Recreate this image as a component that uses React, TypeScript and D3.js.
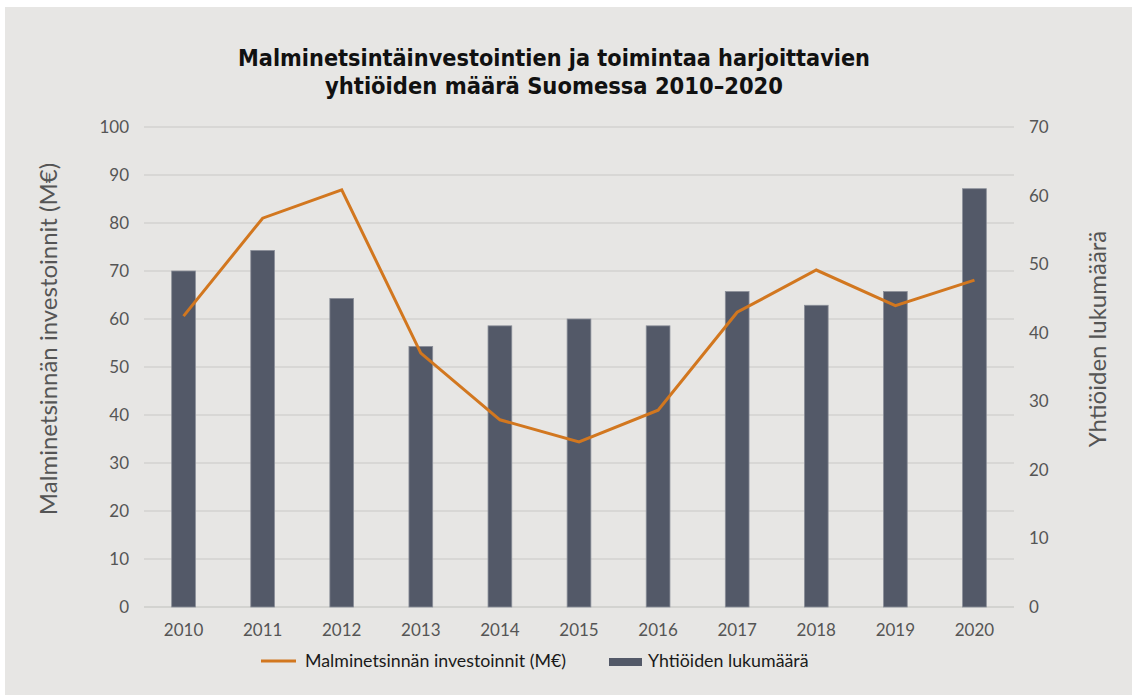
import React from "react";
import * as d3 from "d3";

const years = ["2010","2011","2012","2013","2014","2015","2016","2017","2018","2019","2020"];
const investments = [60.6, 81.0, 86.9, 52.9, 39.0, 34.4, 41.0, 61.4, 70.2, 62.8, 68.1];
const companies = [49, 52, 45, 38, 41, 42, 41, 46, 44, 46, 61];
const leftTicks = [0,10,20,30,40,50,60,70,80,90,100];
const rightTicks = [0,10,20,30,40,50,60,70];
const titleLines = ["Malminetsintäinvestointien ja toimintaa harjoittavien", "yhtiöiden määrä Suomessa 2010–2020"];
const leftLabel = "Malminetsinnän investoinnit (M€)";
const rightLabel = "Yhtiöiden lukumäärä";
const legendLine = "Malminetsinnän investoinnit (M€)";
const legendBar = "Yhtiöiden lukumäärä";

const W = 1132, H = 695;
const L = 144, R = 1014, T = 127, B = 607;
const BAR = "#535968";
const LINE = "#d2771f";
const TICK = "#555555";
const FONT = "Lato, 'Noto Sans', sans-serif";
const TFONT = "'DejaVu Sans Condensed', 'DejaVu Sans', sans-serif";

export default function App() {
  const x = d3.scaleBand<string>().domain(years).range([L, R]).paddingInner(0.7).paddingOuter(0.35);
  const yL = d3.scaleLinear().domain([0, 100]).range([B, T]);
  const yR = d3.scaleLinear().domain([0, 70]).range([B, T]);
  const cx = (y: string) => (x(y) as number) + x.bandwidth() / 2;
  const line = d3.line<number>().x((_, i) => cx(years[i])).y((d) => yL(d));
  const midY = 339;
  return (
    <svg width={W} height={H} style={{ position: "absolute", left: 0, top: 0 }}>
      <rect x={0} y={0} width={W} height={H} fill="#ffffff" />
      <rect x={5} y={7} width={W - 5} height={H - 7} fill="#e7e6e4" />
      {titleLines.map((t, i) => (
        <text key={i} x={554} y={66 + i * 28} textAnchor="middle" fontFamily={TFONT} fontWeight="bold" fontSize={23} fill="#111"
          textLength={i === 0 ? 632 : 458} lengthAdjust="spacingAndGlyphs">{t}</text>
      ))}
      {leftTicks.map((t) => (
        <g key={t}>
          <line x1={L} x2={R} y1={yL(t)} y2={yL(t)} stroke={t === 0 ? "#cdccca" : "#d3d2d0"} strokeWidth={1.3} />
          <text x={129} y={yL(t)} dy="0.35em" textAnchor="end" fontFamily={FONT} fontSize={17} fill={TICK}>{t}</text>
        </g>
      ))}
      {rightTicks.map((t) => (
        <text key={t} x={1029} y={yR(t)} dy="0.35em" textAnchor="start" fontFamily={FONT} fontSize={17} fill={TICK}>{t}</text>
      ))}
      {years.map((yv, i) => (
        <rect key={yv} x={x(yv)} y={yR(companies[i])} width={x.bandwidth()} height={B - yR(companies[i])}
          fill={BAR} stroke="#8a8e98" strokeWidth={0.8} />
      ))}
      <path d={line(investments) || ""} fill="none" stroke={LINE} strokeWidth={3} strokeLinejoin="miter" />
      {years.map((yv) => (
        <text key={yv} x={cx(yv)} y={630} dy="0.35em" textAnchor="middle" fontFamily={FONT} fontSize={17} fill={TICK}>{yv}</text>
      ))}
      <text transform={`translate(57,${midY}) rotate(-90)`} textAnchor="middle" fontFamily={FONT} fontSize={24} fill={TICK}>{leftLabel}</text>
      <text transform={`translate(1106,${midY}) rotate(-90)`} textAnchor="middle" fontFamily={FONT} fontSize={24} fill={TICK}>{rightLabel}</text>
      <line x1={261} x2={296} y1={661} y2={661} stroke={LINE} strokeWidth={3} />
      <text x={305} y={661} dy="0.35em" fontFamily={FONT} fontSize={17.8} fill="#1a1a1a">{legendLine}</text>
      <rect x={609} y={658} width={33} height={8} fill={BAR} />
      <text x={648} y={661} dy="0.35em" fontFamily={FONT} fontSize={17.8} fill="#1a1a1a">{legendBar}</text>
    </svg>
  );
}
